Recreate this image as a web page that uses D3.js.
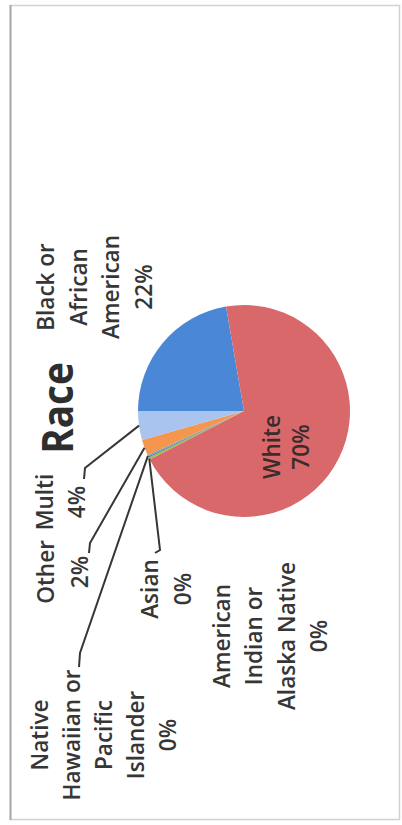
<!DOCTYPE html>
<html>
<head>
<meta charset="utf-8">
<script src="https://cdn.jsdelivr.net/npm/d3@7"></script>
<style>
  html, body { margin: 0; padding: 0; background: #fff; }
  svg { display: block; }
</style>
</head>
<body>
<svg id="chart" width="402" height="825"></svg>
<script>
// Race breakdown (share of total, percent)
const categories = [
  "Black or African American",
  "White",
  "Asian",
  "American Indian or Alaska Native",
  "Native Hawaiian or Pacific Islander",
  "Other",
  "Multi"
];
const values = [22.3, 70.2, 0.3, 0.2, 0.2, 2.45, 4.4];
const colors = ["#4a87d6", "#d9686b", "#9bbb59", "#8064a2", "#4bacc6", "#f5964f", "#a8c4ef"];
// How each category name is broken onto lines in its data label
const labelLines = [
  ["Black or", "African", "American"],
  ["White"],
  ["Asian"],
  ["American", "Indian or", "Alaska Native"],
  ["Native", "Hawaiian or", "Pacific", "Islander"],
  ["Other"],
  ["Multi"]
];
const title = "Race";

// ---- layout (chart drawn in a landscape frame, then turned a quarter turn) ----
const W = 825, H = 402;
const cx = 414, cy = 244, R = 106;
const labelFont = "'Open Sans', 'Noto Sans', sans-serif";
const textColor = "#363636";
const squeeze = 0.94;

// label block placement: centre along the line (u), first baseline (v), line step
const labelPos = [
  { u: 538, v: 54,  step: 32.7 },
  { u: 378, v: 280, step: 29 },
  { u: 236, v: 158, step: 33 },
  { u: 189, v: 230, step: 32.3 },
  { u: 90,  v: 48,  step: 32 },
  { u: 253, v: 54,  step: 34 },
  { u: 323, v: 53,  step: 32 }
];
// leader lines: bend point and end point near the label
const leaders = {
  6: [[357, 85], [346, 84]],
  5: [[282, 90], [272, 89]],
  4: [[172, 80], [158, 79]],
  2: [[275, 160], [272, 155]]
};

const svg = d3.select("#chart");

// outer frame
svg.append("rect")
  .attr("x", 10.5).attr("y", 5.5)
  .attr("width", 389).attr("height", 814)
  .attr("fill", "none")
  .attr("stroke", "#d2d2d2")
  .attr("stroke-width", 1.5);
svg.append("line")
  .attr("x1", 10.5).attr("x2", 10.5)
  .attr("y1", 5).attr("y2", 820)
  .attr("stroke", "#a9a9a9")
  .attr("stroke-width", 2);

const g = svg.append("g")
  .attr("transform", `translate(0,${W}) rotate(-90)`);

const total = d3.sum(values);
const pct = v => Math.round(v / total * 100) + "%";

const pie = d3.pie().sort(null).value(d => d)(values);
const arc = d3.arc().innerRadius(0).outerRadius(R);
const edge = d3.arc().innerRadius(R).outerRadius(R);

const pieG = g.append("g").attr("transform", `translate(${cx},${cy})`);
pieG.selectAll("path")
  .data(pie)
  .join("path")
  .attr("d", arc)
  .attr("fill", (d, i) => colors[i]);

// leader lines from slice edge to the label
Object.entries(leaders).forEach(([k, pts]) => {
  const i = +k;
  const c = edge.centroid(pie[i]);
  const start = [cx + c[0], cy + c[1]];
  g.append("path")
    .attr("d", d3.line()([start, ...pts]))
    .attr("fill", "none")
    .attr("stroke", "#363636")
    .attr("stroke-width", 2);
});

// data labels: name lines followed by the percentage
categories.forEach((name, i) => {
  const lines = labelLines[i].concat([pct(values[i])]);
  const p = labelPos[i];
  lines.forEach((t, j) => {
    g.append("text")
      .attr("transform", `translate(${p.u},${p.v + j * p.step}) scale(${squeeze},1)`)
      .attr("text-anchor", "middle")
      .attr("font-family", labelFont)
      .attr("font-weight", 600)
      .attr("font-size", 24)
      .attr("fill", i === 1 ? "#3a2c2c" : textColor)
      .text(t);
  });
});

// title
g.append("text")
  .attr("transform", `translate(417,73) scale(0.9,1)`)
  .attr("text-anchor", "middle")
  .attr("font-family", labelFont)
  .attr("font-weight", "bold")
  .attr("font-size", 43)
  .attr("fill", "#2e2e2e")
  .text(title);
</script>
</body>
</html>
